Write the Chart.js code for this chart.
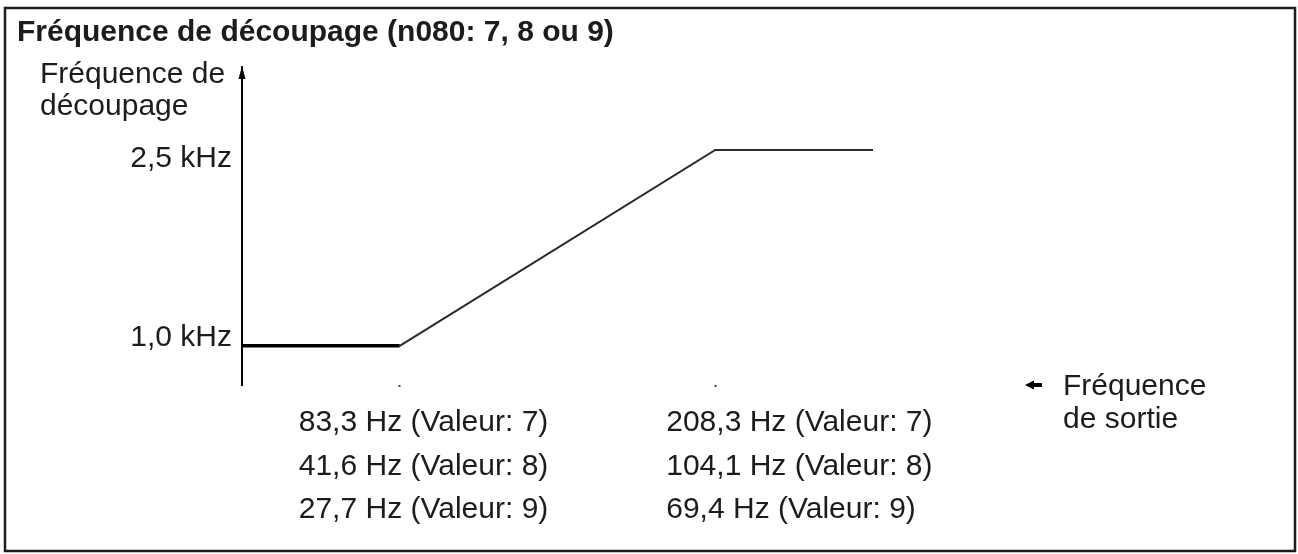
<!DOCTYPE html>
<html lang="fr">
<head>
<meta charset="utf-8">
<title>Fréquence de découpage</title>
<script src="https://cdn.jsdelivr.net/npm/chart.js@4.4.1/dist/chart.umd.min.js"></script>
<style>
    html, body { margin: 0; padding: 0; background: #fff; overflow: hidden; }
    .wrap { position: relative; width: 1298px; height: 554px; }
</style>
</head>
<body>
<div class="wrap"><canvas id="myChart"></canvas></div>
<script>
// breakpoints along the output-frequency axis (drawn not to scale in the original)
const outputPos = [0, 1, 3, 4];
const carrierKHz = [1.0, 1.0, 2.5, 2.5];

const yTickValues = [1.0, 2.5];
const xTickValues = [1, 3];

const lowBreakLabels = ['83,3 Hz (Valeur: 7)', '41,6 Hz (Valeur: 8)', '27,7 Hz (Valeur: 9)'];
const highBreakLabels = ['208,3 Hz (Valeur: 7)', '104,1 Hz (Valeur: 8)', '69,4 Hz (Valeur: 9)'];
const breakLabels = [lowBreakLabels, highBreakLabels];

const yTitleLines = ['Fréquence de', 'découpage'];
const legendLines = ['Fréquence', 'de sortie'];

const ink = '#1c1c1c';
const textFont = "30px 'Liberation Sans', Arial, sans-serif";
Chart.defaults.font.family = "'Liberation Sans', Arial, sans-serif";
Chart.defaults.color = ink;

// frame, axis arrow, axis labels, break labels and legend
const extras = {
    id: 'extras',
    afterDraw(chart) {
        const { ctx, chartArea: a, scales: { x, y } } = chart;
        ctx.save();

        ctx.strokeStyle = ink;
        ctx.lineWidth = 2.5;
        ctx.strokeRect(5, 8, 1290, 543);

        // arrow head on y axis
        ctx.fillStyle = '#000';
        ctx.beginPath();
        ctx.moveTo(a.left, a.top - 1);
        ctx.lineTo(a.left - 3.5, a.top + 12);
        ctx.lineTo(a.left + 3.5, a.top + 12);
        ctx.closePath();
        ctx.fill();

        ctx.fillStyle = ink;
        ctx.font = textFont;
        ctx.textBaseline = 'alphabetic';

        // y labels: lower one sits on its level, upper one hangs under it
        ctx.textAlign = 'right';
        yTickValues.forEach((v, i) => {
            const drop = i === yTickValues.length - 1 ? 17 : 0;
            ctx.fillText(v.toFixed(1).replace('.', ',') + ' kHz', a.left - 10, y.getPixelForValue(v) + drop);
        });

        ctx.textAlign = 'left';
        yTitleLines.forEach((t, i) => ctx.fillText(t, a.left - 202, a.top + 16 + i * 32));

        // labels under the two break points
        const shift = [-101, -49];
        breakLabels.forEach((rows, c) => {
            const left = x.getPixelForValue(xTickValues[c]) + shift[c];
            rows.forEach((t, r) => ctx.fillText(t, left, a.bottom + 46 + r * 43.5));
        });

        // legend: small arrow + text
        const mx = a.right + 152, my = a.bottom;
        ctx.beginPath();
        ctx.moveTo(mx, my);
        ctx.lineTo(mx + 9, my - 4.5);
        ctx.lineTo(mx + 9, my + 4.5);
        ctx.closePath();
        ctx.fillStyle = '#000';
        ctx.fill();
        ctx.fillRect(mx + 8, my - 2, 9, 4);

        ctx.fillStyle = ink;
        legendLines.forEach((t, i) => ctx.fillText(t, a.right + 190, a.bottom + 10 + i * 33));

        ctx.restore();
    }
};

const data = {
    datasets: [{
        label: 'Fréquence de découpage',
        data: outputPos.map((p, i) => ({ x: p, y: carrierKHz[i] })),
        borderColor: '#111',
        borderWidth: 2,
        pointRadius: 0,
        tension: 0,
        clip: false,
        segment: {
            borderWidth: c => c.p0DataIndex === 0 ? 3.5 : 2,
            borderColor: c => c.p0DataIndex === 0 ? '#000' : '#2a2a2a'
        }
    }]
};

const config = {
    type: 'line',
    data: data,
    options: {
        responsive: true,
        maintainAspectRatio: false,
        animation: false,
        events: [],
        layout: {
            padding: { left: 17, right: 425, top: 0, bottom: 166 }
        },
        scales: {
            x: {
                type: 'linear',
                min: 0,
                max: 4,
                border: { display: false },
                grid: {
                    display: true,
                    drawOnChartArea: false,
                    drawTicks: true,
                    tickLength: 2,
                    tickWidth: 2,
                    tickColor: '#444'
                },
                ticks: { display: false },
                afterBuildTicks: s => { s.ticks = xTickValues.map(v => ({ value: v })); },
                afterFit: s => { s.height = 3; }
            },
            y: {
                type: 'linear',
                min: 0.7,
                max: 3.135,
                border: { display: true, color: '#000', width: 2 },
                grid: { display: false, drawTicks: false },
                ticks: { display: false },
                afterBuildTicks: s => { s.ticks = yTickValues.map(v => ({ value: v })); },
                afterFit: s => { s.width = 225; }
            }
        },
        plugins: {
            legend: { display: false },
            tooltip: { enabled: false },
            title: {
                display: true,
                text: 'Fréquence de découpage (n080: 7, 8 ou 9)',
                align: 'start',
                color: ink,
                font: { size: 30, weight: 'bold' },
                padding: { top: 15, bottom: 16 }
            }
        }
    },
    plugins: [extras]
};

const myChart = new Chart(document.getElementById('myChart'), config);
</script>
</body>
</html>
